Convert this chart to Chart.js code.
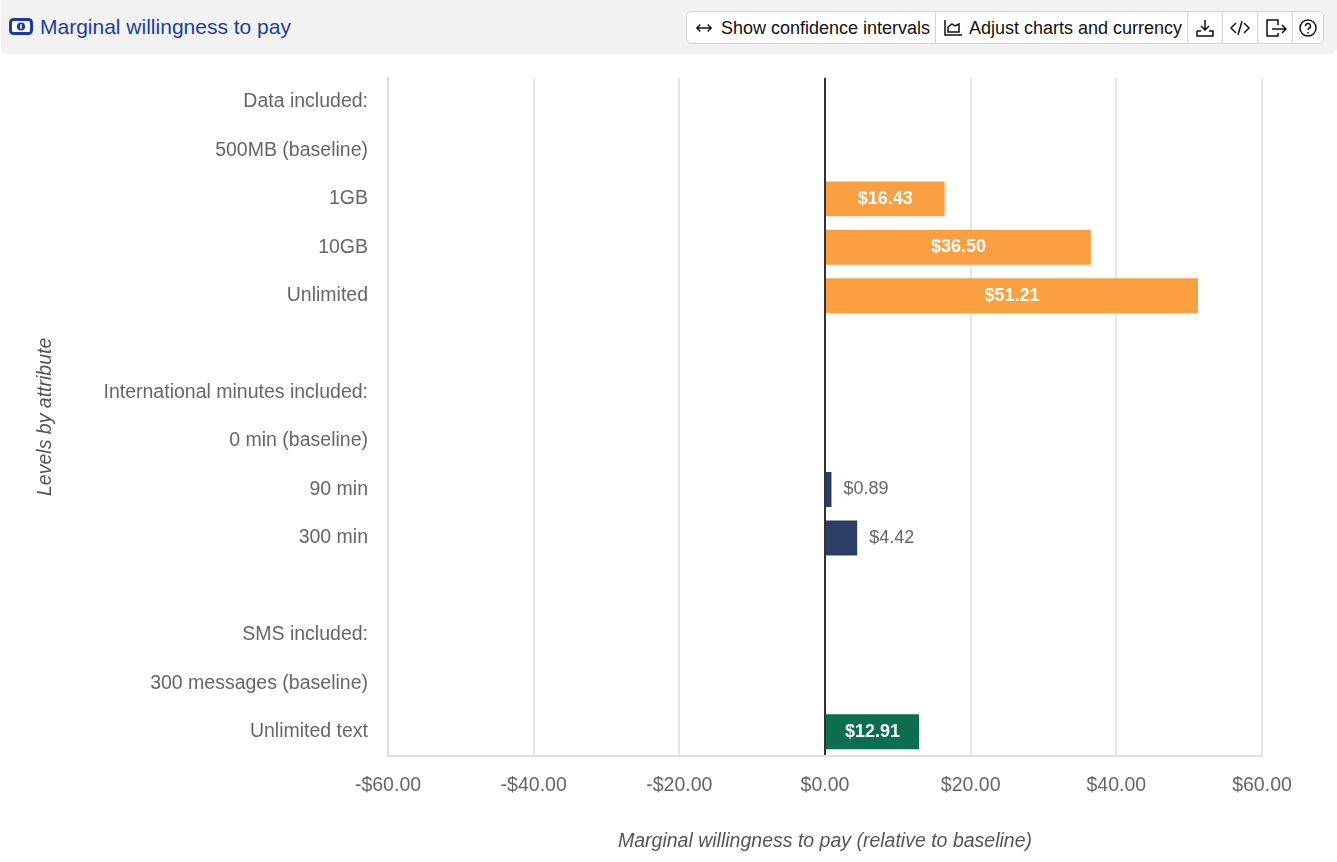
<!DOCTYPE html>
<html>
<head>
<meta charset="utf-8">
<title>Marginal willingness to pay</title>
<script src="https://cdn.jsdelivr.net/npm/chart.js@4"></script>
<style>
    html, body { margin: 0; padding: 0; background: #fff; overflow: hidden; }
    body { width: 1337px; height: 862px; position: relative; font-family: "Liberation Sans", Arial, sans-serif; }
    #header { position: absolute; left: 1px; top: 0; width: 1336px; height: 54px; background: #f2f2f2; border-radius: 0 0 6px 6px; }
    #title { position: absolute; left: 39px; top: 14px; font-size: 21px; line-height: 26px; color: #1a3da5; white-space: nowrap; }
    #titleIcon { position: absolute; left: 8px; top: 18px; }
    #toolbar { position: absolute; left: 685px; top: 11px; width: 636px; height: 31px; background: #fff; border: 1px solid #d4d4d4; border-radius: 5px; }
    .tool { position: absolute; top: 0; height: 31px; line-height: 32px; font-size: 18px; color: #111; white-space: nowrap; border-right: 1px solid #d4d4d4; box-sizing: border-box; }
    .tool:last-child { border-right: 0; }
    .tool svg { position: absolute; top: 6px; }
    .tool span { position: absolute; top: 0; }
    #chartWrap { position: absolute; left: 0; top: 46px; width: 1337px; height: 816px; }
    #wtpChart { display: block; }
</style>
</head>
<body>

<div id="header">
    <svg id="titleIcon" width="24" height="18" viewBox="0 0 24 18">
        <rect x="1.5" y="1.5" width="21" height="14" rx="3" fill="#fff" stroke="#1a3da5" stroke-width="3"/>
        <circle cx="12" cy="8.5" r="4" fill="#1a3da5"/>
        <rect x="11.2" y="6.3" width="1.6" height="4.4" fill="#fff"/>
    </svg>
    <div id="title">Marginal willingness to pay</div>
    <div id="toolbar">
        <div class="tool" style="left:0;width:249px">
            <svg style="left:8px" width="18" height="20" viewBox="0 0 20 20" fill="none" stroke="#111" stroke-width="1.5"><path d="M2 10h16M6 6l-4 4 4 4M14 6l4 4-4 4"/></svg>
            <span style="left:34px">Show confidence intervals</span>
        </div>
        <div class="tool" style="left:249px;width:252px">
            <svg style="left:7px" width="20" height="20" viewBox="0 0 20 20" fill="none" stroke="#111" stroke-width="1.5"><path d="M2 2v15h17M5 14V9l4-3 3 2 4-2v8z"/></svg>
            <span style="left:33px">Adjust charts and currency</span>
        </div>
        <div class="tool" style="left:501px;width:35px">
            <svg style="left:7px" width="20" height="20" viewBox="0 0 20 20" fill="none" stroke="#111" stroke-width="1.5"><path d="M10 2v10M6 8l4 4 4-4M2 13v5h16v-5h-4M2 13h4"/></svg>
        </div>
        <div class="tool" style="left:536px;width:35px">
            <svg style="left:7px" width="20" height="20" viewBox="0 0 20 20" fill="none" stroke="#111" stroke-width="1.5"><path d="M6 5l-5 5 5 5M14 5l5 5-5 5M12 3l-4 14"/></svg>
        </div>
        <div class="tool" style="left:571px;width:35px">
            <svg style="left:7px" width="22" height="20" viewBox="0 0 22 20" fill="none" stroke="#111" stroke-width="1.5"><path d="M13 7V2H2v16h11v-3M7 11h14M17 7l4 4-4 4"/></svg>
        </div>
        <div class="tool" style="left:606px;width:30px">
            <svg style="left:5px" width="20" height="20" viewBox="0 0 20 20" fill="none" stroke="#111" stroke-width="1.5"><circle cx="10" cy="10" r="8"/><path d="M7.5 8a2.5 2.5 0 1 1 3.5 2.3c-.7.4-1 .8-1 1.7M10 14v1.5"/></svg>
        </div>
    </div>
</div>

<div id="chartWrap"><canvas id="wtpChart" width="1337" height="816"></canvas></div>

<script>
// Data
const levelLabels = [
    "Data included:", "500MB (baseline)", "1GB", "10GB", "Unlimited", "",
    "International minutes included:", "0 min (baseline)", "90 min", "300 min", "",
    "SMS included:", "300 messages (baseline)", "Unlimited text"
];
const wtpValues = [null, null, 16.43, 36.50, 51.21, null, null, null, 0.89, 4.42, null, null, null, 12.91];
const barColors = [null, null, "#fb9f40", "#fb9f40", "#fb9f40", null, null, null, "#2a3f63", "#2a3f63", null, null, null, "#0b6e4f"];
const xTicks = [-60, -40, -20, 0, 20, 40, 60];

const gray = "#666666";
const fontFamily = '"Liberation Sans", Arial, sans-serif';

function money(v) {
    return (v < 0 ? "-$" : "$") + Math.abs(v).toFixed(2);
}

// value labels: white inside the long bars, gray next to the short ones
const barLabels = {
    id: "barLabels",
    afterDatasetsDraw(chart) {
        const ctx = chart.ctx;
        const meta = chart.getDatasetMeta(0);
        ctx.save();
        ctx.textBaseline = "middle";
        meta.data.forEach((bar, i) => {
            const v = wtpValues[i];
            if (v === null) return;
            if (v > 10) {
                ctx.font = "bold 18px " + fontFamily;
                ctx.fillStyle = "#ffffff";
                ctx.textAlign = "center";
                ctx.fillText(money(v), (bar.x + bar.base) / 2, bar.y);
            } else {
                ctx.font = "18px " + fontFamily;
                ctx.fillStyle = gray;
                ctx.textAlign = "left";
                ctx.fillText(money(v), bar.x + 12, bar.y);
            }
        });
        ctx.restore();
    }
};

new Chart(document.getElementById("wtpChart"), {
    type: "bar",
    plugins: [barLabels],
    data: {
        labels: levelLabels,
        datasets: [{
            data: wtpValues,
            backgroundColor: barColors,
            barPercentage: 0.72,
            categoryPercentage: 1
        }]
    },
    options: {
        indexAxis: "y",
        responsive: false,
        animation: false,
        layout: { autoPadding: false, padding: { top: 16, right: 75, bottom: 0, left: 30 } },
        plugins: {
            legend: { display: false },
            tooltip: { enabled: false }
        },
        scales: {
            x: {
                min: -60,
                max: 60,
                afterBuildTicks: scale => { scale.ticks = xTicks.map(value => ({ value })); },
                grid: {
                    color: c => c.tick.value === 0 ? "#333333" : "#e6e6e6",
                    lineWidth: 2,
                    drawTicks: false
                },
                border: { display: true, color: "#e0e0e0", width: 2 },
                ticks: {
                    color: gray,
                    padding: 18,
                    maxRotation: 0,
                    font: { family: fontFamily, size: 19.5 },
                    callback: v => money(v)
                },
                title: {
                    display: true,
                    text: "Marginal willingness to pay (relative to baseline)",
                    color: "#555555",
                    padding: { top: 22, bottom: 9 },
                    font: { family: fontFamily, size: 19.5, style: "italic" }
                },
                afterFit: scale => { scale.height = 106; }
            },
            y: {
                grid: { display: false, drawTicks: false },
                border: { color: "#dddddd", width: 2 },
                ticks: {
                    color: gray,
                    padding: 20,
                    autoSkip: false,
                    font: { family: fontFamily, size: 19.5 }
                },
                title: {
                    display: true,
                    text: "Levels by attribute",
                    color: "#555555",
                    font: { family: fontFamily, size: 19.5, style: "italic" }
                },
                afterFit: scale => { scale.width = 358; }
            }
        }
    }
});
</script>
</body>
</html>
